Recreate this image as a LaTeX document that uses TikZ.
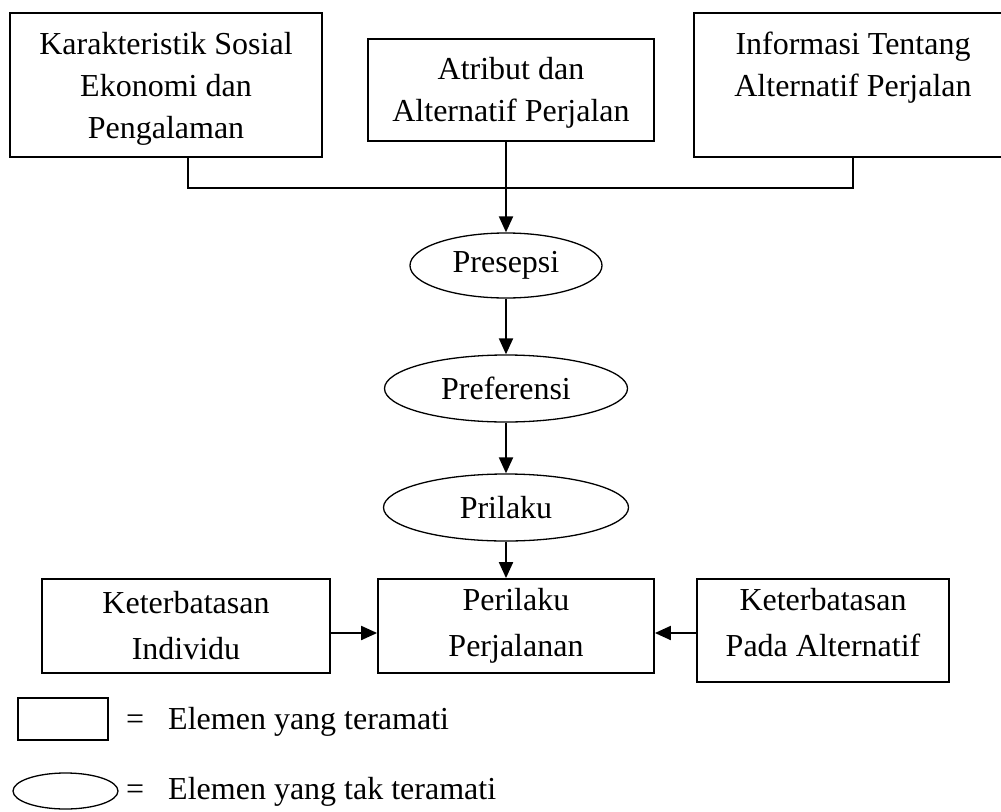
\documentclass[tikz,border=0pt]{standalone}
\usepackage{fontspec}
\setmainfont{Liberation Serif}
\usetikzlibrary{arrows.meta,shapes.geometric}
\begin{document}
\begin{tikzpicture}[x=1pt,y=-1pt,
  every node/.style={font=\fontsize{32}{42}\selectfont},
  obs/.style={draw,rectangle,line width=1.8pt,inner sep=0pt,align=center},
  unobs/.style={draw,ellipse,line width=1.3pt,inner sep=0pt},
  link/.style={line width=1.6pt},
  arr/.style={line width=2pt,-{Triangle[length=16pt,width=14pt]}},
  txt/.style={anchor=base west,inner sep=0pt}]
\useasboundingbox (0,0) rectangle (1001,811);
% top row
\node[obs,minimum width=312pt,minimum height=144pt] (box1) at (166,85)
  {\rule{0pt}{29pt}Karakteristik Sosial\\Ekonomi dan\\Pengalaman};
\node[obs,minimum width=286pt,minimum height=102pt] (box2) at (511,90)
  {\rule{0pt}{27pt}Atribut dan\\Alternatif Perjalan};
\node[obs,minimum width=318pt,minimum height=144pt] (box3) at (853,85)
  {\rule{0pt}{29pt}Informasi Tentang\\Alternatif Perjalan\\\vphantom{g}};
% ellipses
\node[unobs,minimum width=192pt,minimum height=65pt] (pres) at (506,265.5) {Presepsi};
\node[unobs,minimum width=243pt,minimum height=67pt] (pref) at (506,388.5) {Preferensi};
\node[unobs,minimum width=245pt,minimum height=67pt] (pril) at (506,507.5) {Prilaku};
% bottom row
\node[obs,minimum width=288pt,minimum height=94pt,font=\fontsize{32}{46}\selectfont] (indiv) at (186,626)
  {Keterbatasan\\Individu};
\node[obs,minimum width=276pt,minimum height=94pt,font=\fontsize{32}{46}\selectfont] (peril) at (516,626)
  {Perilaku\\Perjalanan};
\node[obs,minimum width=252pt,minimum height=103pt,font=\fontsize{32}{46}\selectfont] (pada) at (823,630.5)
  {Keterbatasan\\Pada Alternatif\rule[-16pt]{0pt}{0pt}};
% legend
\node[obs,minimum width=90pt,minimum height=42pt] (legrect) at (63,719) {};
\node[unobs,minimum width=105pt,minimum height=36pt] (legell) at (65.5,791) {};
\node[txt] (leg1) at (126,729) {=\hspace{24pt}Elemen yang teramati};
\node[txt] (leg2) at (126,799) {=\hspace{24pt}Elemen yang tak teramati};
% connectors
\draw[link] ([xshift=22pt]box1.south) -- ++(0,30) -| (box3.south);
\draw[arr] (pres.north |- box2.south) -- (pres.north);
\draw[arr] (pres.south) -- (pref.north);
\draw[arr] (pref.south) -- (pril.north);
\draw[arr] (pril.south) -- (pril.south |- peril.north);
\coordinate (ay) at (0,633);
\draw[arr] (indiv.east |- ay) -- (peril.west |- ay);
\draw[arr] (pada.west |- ay) -- (peril.east |- ay);
\end{tikzpicture}
\end{document}
